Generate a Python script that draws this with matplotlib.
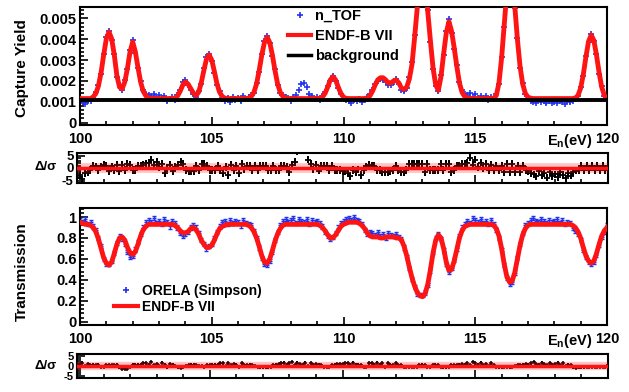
import numpy as np
import matplotlib
matplotlib.use("Agg")
import matplotlib.pyplot as plt
from matplotlib.ticker import MultipleLocator, FuncFormatter
from matplotlib.lines import Line2D

plt.rcParams['font.family'] = ['Liberation Sans', 'DejaVu Sans']
plt.rcParams['font.weight'] = 'bold'
plt.rcParams['axes.unicode_minus'] = False
plt.rcParams['mathtext.fontset'] = 'custom'
plt.rcParams['mathtext.rm'] = 'Liberation Sans:bold'
plt.rcParams['mathtext.bf'] = 'Liberation Sans:bold'

# ---------------- data ----------------
energy_start, energy_stop, energy_step = 100.0, 120.0, 0.1   # eV
energy = np.round(np.arange(energy_start, energy_stop + energy_step / 2, energy_step), 1)

# capture yield, units of 1e-3 (rows = 1 eV)
yield_model_1e3 = [
    1.15, 1.15, 1.15, 1.15, 1.15, 1.23, 1.39, 1.76, 2.40, 3.26,
    4.03, 4.35, 4.03, 3.26, 2.25, 1.70, 1.62, 1.95, 2.60, 3.40,
    3.87, 3.40, 2.65, 1.95, 1.50, 1.28, 1.19, 1.16, 1.15, 1.15,
    1.15, 1.15, 1.15, 1.15, 1.15, 1.15, 1.17, 1.27, 1.50, 1.80,
    1.95, 1.85, 1.63, 1.42, 1.30, 1.45, 1.90, 2.50, 3.05, 3.25,
    3.00, 2.45, 1.85, 1.45, 1.25, 1.17, 1.15, 1.15, 1.15, 1.15,
    1.15, 1.15, 1.15, 1.15, 1.17, 1.25, 1.45, 1.85, 2.50, 3.25,
    3.85, 4.10, 3.85, 3.25, 2.50, 1.85, 1.45, 1.25, 1.17, 1.15,
    1.15, 1.15, 1.15, 1.15, 1.15, 1.15, 1.15, 1.15, 1.15, 1.15,
    1.15, 1.16, 1.22, 1.40, 1.70, 2.05, 2.20, 2.05, 1.70, 1.40,
    1.22, 1.16, 1.15, 1.15, 1.15, 1.15, 1.15, 1.15, 1.15, 1.18,
    1.28, 1.50, 1.80, 2.05, 2.15, 2.15, 2.05, 1.90, 1.90, 2.00,
    2.05, 1.90, 1.65, 1.60, 1.70, 2.10, 2.80, 4.10, 5.50, 7.00,
    7.80, 6.90, 5.30, 3.90, 2.60, 1.80, 1.55, 2.20, 3.30, 4.30,
    4.85, 4.40, 3.60, 2.70, 1.90, 1.45, 1.25, 1.18, 1.15, 1.15,
    1.15, 1.15, 1.15, 1.15, 1.15, 1.15, 1.15, 1.17, 1.30, 1.90,
    3.10, 4.70, 6.30, 7.30, 7.00, 5.60, 4.00, 2.70, 1.85, 1.40,
    1.22, 1.17, 1.15, 1.15, 1.15, 1.15, 1.15, 1.15, 1.15, 1.15,
    1.15, 1.15, 1.15, 1.15, 1.15, 1.15, 1.15, 1.15, 1.18, 1.30,
    1.65, 2.30, 3.15, 3.90, 4.20, 3.95, 3.25, 2.40, 1.70, 1.30,
    1.15]

yield_data_1e3 = [
    0.92, 0.98, 0.88, 1.02, 1.05, 1.18, 1.45, 1.80, 2.35, 3.30,
    4.10, 4.40, 3.95, 3.30, 2.20, 1.78, 1.55, 2.02, 2.55, 3.50,
    3.95, 3.35, 2.60, 2.00, 1.55, 1.35, 1.30, 1.28, 1.35, 1.22,
    1.30, 1.18, 1.25, 1.02, 1.15, 1.22, 1.10, 1.30, 1.58, 1.95,
    2.05, 1.80, 1.55, 1.35, 1.22, 1.50, 1.85, 2.60, 3.15, 3.30,
    2.95, 2.40, 1.80, 1.50, 1.20, 1.05, 1.18, 0.98, 1.22, 1.10,
    1.20, 1.02, 1.25, 1.12, 1.22, 1.30, 1.40, 1.90, 2.45, 3.30,
    3.90, 4.15, 3.80, 3.20, 2.55, 1.80, 1.40, 1.30, 1.22, 1.18,
    1.05, 1.22, 1.30, 1.55, 1.85, 1.90, 1.70, 1.35, 1.25, 1.12,
    1.22, 1.10, 1.28, 1.45, 1.75, 2.00, 2.25, 2.00, 1.65, 1.35,
    1.15, 1.08, 1.02, 0.95, 1.10, 1.05, 1.12, 0.98, 1.10, 1.22,
    1.35, 1.55, 1.85, 2.00, 2.10, 2.05, 1.95, 1.80, 1.82, 1.95,
    2.10, 1.85, 1.55, 1.50, 1.65, 2.20, 2.90, 4.20, 5.60, 7.10,
    7.90, 6.80, 5.40, 3.85, 2.55, 1.75, 1.50, 2.30, 3.25, 4.40,
    4.95, 4.30, 3.55, 2.75, 1.95, 1.55, 1.35, 1.30, 1.40, 1.22,
    1.35, 1.18, 1.28, 1.15, 1.25, 1.10, 1.22, 1.12, 1.35, 1.85,
    3.15, 4.60, 6.40, 7.20, 7.10, 5.50, 4.05, 2.60, 1.90, 1.35,
    1.15, 1.05, 1.00, 0.95, 1.08, 0.98, 1.02, 0.92, 1.05, 0.96,
    1.00, 0.93, 1.05, 0.98, 0.90, 1.02, 0.97, 1.05, 1.12, 1.25,
    1.70, 2.25, 3.20, 3.85, 4.25, 3.90, 3.30, 2.35, 1.75, 1.25,
    1.20]
yield_data_err_1e3 = 0.06
background_energy = [100.0, 120.0]
background_1e3 = [1.08, 1.08]

# transmission (rows = 1 eV)
trans_model = [
    0.95, 0.94, 0.93, 0.93, 0.92, 0.90, 0.86, 0.79, 0.70, 0.61,
    0.56, 0.54, 0.57, 0.65, 0.74, 0.80, 0.81, 0.78, 0.71, 0.66,
    0.64, 0.67, 0.74, 0.82, 0.88, 0.91, 0.93, 0.93, 0.93, 0.93,
    0.93, 0.93, 0.93, 0.93, 0.93, 0.93, 0.92, 0.90, 0.87, 0.85,
    0.85, 0.86, 0.89, 0.90, 0.88, 0.84, 0.78, 0.74, 0.71, 0.71,
    0.73, 0.78, 0.84, 0.89, 0.91, 0.92, 0.93, 0.93, 0.93, 0.93,
    0.93, 0.93, 0.93, 0.93, 0.92, 0.90, 0.86, 0.80, 0.72, 0.63,
    0.57, 0.56, 0.60, 0.68, 0.77, 0.84, 0.89, 0.92, 0.93, 0.93,
    0.93, 0.93, 0.93, 0.93, 0.93, 0.93, 0.93, 0.93, 0.93, 0.93,
    0.93, 0.92, 0.90, 0.87, 0.83, 0.80, 0.80, 0.83, 0.87, 0.91,
    0.93, 0.94, 0.95, 0.95, 0.95, 0.95, 0.94, 0.92, 0.89, 0.85,
    0.82, 0.81, 0.81, 0.81, 0.80, 0.80, 0.81, 0.81, 0.81, 0.81,
    0.80, 0.80, 0.78, 0.72, 0.63, 0.52, 0.42, 0.34, 0.28, 0.25,
    0.24, 0.27, 0.36, 0.50, 0.66, 0.78, 0.83, 0.80, 0.70, 0.57,
    0.49, 0.50, 0.58, 0.69, 0.80, 0.87, 0.91, 0.92, 0.93, 0.93,
    0.93, 0.93, 0.93, 0.93, 0.93, 0.93, 0.93, 0.92, 0.89, 0.82,
    0.70, 0.55, 0.43, 0.38, 0.39, 0.47, 0.60, 0.73, 0.83, 0.89,
    0.92, 0.93, 0.93, 0.93, 0.93, 0.93, 0.93, 0.93, 0.93, 0.93,
    0.93, 0.93, 0.93, 0.93, 0.93, 0.93, 0.93, 0.92, 0.90, 0.86,
    0.80, 0.71, 0.63, 0.58, 0.56, 0.58, 0.65, 0.74, 0.82, 0.87,
    0.90]

trans_data = [
    0.97, 0.95, 0.98, 0.93, 0.95, 0.91, 0.88, 0.80, 0.72, 0.60,
    0.55, 0.55, 0.58, 0.66, 0.75, 0.82, 0.79, 0.74, 0.67, 0.62,
    0.63, 0.69, 0.76, 0.84, 0.90, 0.95, 0.97, 0.95, 0.99, 0.94,
    0.96, 0.93, 0.98, 0.95, 0.91, 0.96, 0.94, 0.90, 0.85, 0.82,
    0.84, 0.86, 0.90, 0.92, 0.90, 0.85, 0.78, 0.74, 0.70, 0.72,
    0.74, 0.80, 0.86, 0.91, 0.95, 0.96, 0.93, 0.97, 0.94, 0.96,
    0.95, 0.92, 0.97, 0.94, 0.93, 0.92, 0.87, 0.80, 0.71, 0.61,
    0.55, 0.54, 0.58, 0.67, 0.78, 0.86, 0.92, 0.96, 0.98, 0.95,
    0.97, 0.99, 0.94, 0.98, 0.96, 0.95, 0.98, 0.93, 0.97, 0.95,
    0.96, 0.94, 0.91, 0.86, 0.82, 0.79, 0.81, 0.85, 0.90, 0.94,
    0.96, 0.98, 0.99, 0.97, 1.00, 0.97, 0.96, 0.93, 0.88, 0.84,
    0.86, 0.85, 0.83, 0.86, 0.82, 0.84, 0.80, 0.85, 0.83, 0.82,
    0.84, 0.81, 0.79, 0.71, 0.62, 0.51, 0.41, 0.33, 0.27, 0.26,
    0.26, 0.28, 0.35, 0.49, 0.67, 0.80, 0.84, 0.79, 0.68, 0.55,
    0.48, 0.51, 0.59, 0.70, 0.82, 0.90, 0.93, 0.96, 0.94, 0.99,
    0.97, 0.95, 0.98, 0.94, 0.96, 0.93, 0.97, 0.93, 0.88, 0.80,
    0.68, 0.54, 0.42, 0.36, 0.38, 0.47, 0.61, 0.74, 0.85, 0.92,
    0.94, 0.97, 0.99, 0.96, 0.95, 0.98, 0.96, 0.94, 0.97, 0.95,
    0.96, 0.98, 0.94, 0.97, 0.93, 0.95, 0.94, 0.90, 0.87, 0.84,
    0.78, 0.69, 0.62, 0.57, 0.55, 0.57, 0.64, 0.73, 0.81, 0.86,
    0.92]
trans_data_err = 0.03

yield_ticks = [0, 0.001, 0.002, 0.003, 0.004, 0.005]
trans_ticks = [0, 0.2, 0.4, 0.6, 0.8, 1.0]
resid_ticks = [-5, 0, 5]
energy_ticks = [100, 105, 110, 115, 120]

assert len(yield_model_1e3) == len(energy) == len(yield_data_1e3) == len(trans_model) == len(trans_data)

yield_model = np.array(yield_model_1e3) * 1e-3
yield_data = np.array(yield_data_1e3) * 1e-3
yield_err = yield_data_err_1e3 * 1e-3
background = np.array(background_1e3) * 1e-3
yield_resid = (yield_data - yield_model) / yield_err
trans_model = np.array(trans_model)
trans_data = np.array(trans_data)
trans_resid = (trans_data - trans_model) / trans_data_err

# ---------------- figure ----------------
W, H = 629, 392
fig = plt.figure(figsize=(W / 100, H / 100), dpi=100)
fig.patch.set_facecolor('white')

def px_axes(l, t, r, b):
    return fig.add_axes([l / W, 1 - b / H, (r - l) / W, (b - t) / H])

BLUE = '#2233ee'
RED = '#ff1414'
TICKFS = 10.5

ax1 = px_axes(80, 7, 607, 125)
r1 = px_axes(77, 153, 608, 183)
ax2 = px_axes(80, 208, 607, 325)
r2 = px_axes(77, 354, 608, 378)

def style(ax, lw=1.5, labelsize=TICKFS):
    for s in ax.spines.values():
        s.set_linewidth(lw)
    ax.tick_params(which='both', direction='in', top=False, right=False, width=1.2)
    ax.tick_params(which='major', length=6, labelsize=labelsize, pad=2.5)
    ax.tick_params(axis='x', which='major', pad=5)
    ax.tick_params(which='minor', length=3)
    ax.set_xlim(energy_start, energy_stop)
    ax.xaxis.set_major_locator(MultipleLocator(5))
    ax.xaxis.set_minor_locator(MultipleLocator(1))
    for lab in ax.get_xticklabels() + ax.get_yticklabels():
        lab.set_fontweight('bold')

gfmt = FuncFormatter(lambda v, p: '%g' % round(v, 6))

# --- capture yield panel ---
ax1.errorbar(energy, yield_data, yerr=yield_err, fmt='+', color=BLUE, ms=4.5,
             mew=1.2, elinewidth=1.2, zorder=2)
ax1.plot(energy, yield_model, color=RED, lw=3.5, zorder=3)
ax1.plot(background_energy, background, color='black', lw=2.8, zorder=4)
ax1.set_ylim(-0.00012, 0.00555)
ax1.set_yticks(yield_ticks)
ax1.yaxis.set_minor_locator(MultipleLocator(0.0002))
ax1.yaxis.set_major_formatter(gfmt)
ax1.set_xticks(energy_ticks)
ax1.set_xticklabels([str(t) for t in energy_ticks])
style(ax1)
ax1.legend([Line2D([], [], ls='none', marker='+', color=BLUE, ms=5, mew=1.2),
            Line2D([], [], color=RED, lw=3),
            Line2D([], [], color='black', lw=2.5)],
           ['n_TOF', 'ENDF-B VII', 'background'],
           loc='upper left', bbox_to_anchor=(288 / W, 1 - 9 / H),
           bbox_transform=fig.transFigure, frameon=False,
           prop={'weight': 'bold', 'size': 10.5}, handlelength=1.6,
           handletextpad=0.25, labelspacing=0.4, borderpad=0, borderaxespad=0)

# --- residuals 1 ---
r1.errorbar(energy, yield_resid, yerr=1.5, fmt='+', color='black', ms=4, mew=1.3,
            elinewidth=1.4, zorder=2)
r1.axhline(0, color=RED, lw=7, alpha=0.25, zorder=3)
r1.axhline(0, color=RED, lw=2.5, zorder=4)
r1.set_ylim(-6, 6)
r1.set_yticks(resid_ticks)
r1.yaxis.set_minor_locator(MultipleLocator(1))
style(r1, labelsize=9.5)
r1.set_xticklabels([])

# --- transmission panel ---
ax2.errorbar(energy, trans_data, yerr=0.02, fmt='+', color=BLUE, ms=3.5, mew=1,
             elinewidth=0.8, capsize=1.5, zorder=2)
ax2.plot(energy, trans_model, color=RED, lw=3.5, zorder=3)
ax2.set_ylim(-0.03, 1.086)
ax2.set_yticks(trans_ticks)
ax2.yaxis.set_minor_locator(MultipleLocator(0.04))
ax2.yaxis.set_major_formatter(gfmt)
ax2.set_xticks(energy_ticks)
ax2.set_xticklabels([str(t) for t in energy_ticks])
style(ax2)
ax2.legend([Line2D([], [], ls='none', marker='+', color=BLUE, ms=4, mew=1.2),
            Line2D([], [], color=RED, lw=3)],
           ['ORELA (Simpson)', 'ENDF-B VII'],
           loc='upper left', bbox_to_anchor=(114 / W, 1 - 284 / H),
           bbox_transform=fig.transFigure, frameon=False,
           prop={'weight': 'bold', 'size': 10}, handlelength=1.7,
           handletextpad=0.3, labelspacing=0.15, borderpad=0, borderaxespad=0)

# --- residuals 2 ---
r2.errorbar(energy, trans_resid, yerr=0.7, fmt='+', color='black', ms=3.5, mew=1.1,
            elinewidth=1.2, zorder=2)
r2.axhline(0, color=RED, lw=6, alpha=0.25, zorder=3)
r2.axhline(0, color=RED, lw=2.5, zorder=4)
r2.set_ylim(-6.2, 6.2)
r2.set_yticks(resid_ticks)
r2.yaxis.set_minor_locator(MultipleLocator(1))
style(r2, labelsize=8)
r2.set_xticklabels([])

# --- axis titles ---
xlab = r'E$_\mathregular{n}$(eV)'
fig.text(592 / W, 1 - 132 / H, xlab, ha='right', va='top', fontsize=10.5, fontweight='bold')
fig.text(592 / W, 1 - 332 / H, xlab, ha='right', va='top', fontsize=10.5, fontweight='bold')
fig.text(22 / W, 1 - 68 / H, 'Capture Yield', rotation=90, ha='center', va='center',
         fontsize=11, fontweight='bold')
fig.text(22 / W, 1 - 272 / H, 'Transmission', rotation=90, ha='center', va='center',
         fontsize=11, fontweight='bold')
fig.text(46 / W, 1 - 167 / H, 'Δ/σ', ha='center', va='center', fontsize=9.5, fontweight='bold')
fig.text(46 / W, 1 - 366 / H, 'Δ/σ', ha='center', va='center', fontsize=9.5, fontweight='bold')

fig.savefig('out.png', dpi=100, facecolor='white')
